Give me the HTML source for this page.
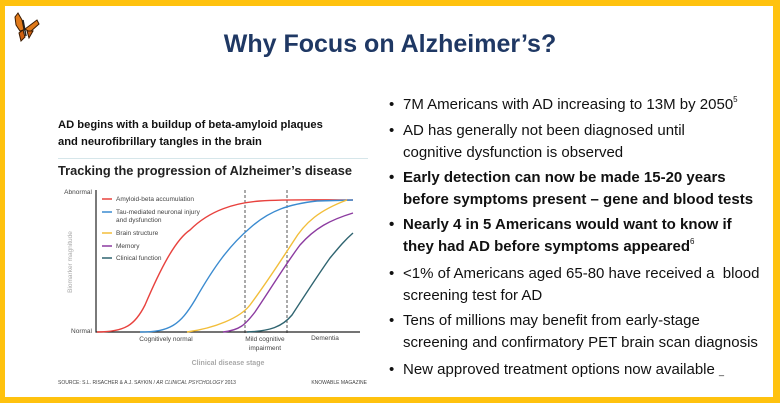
<!DOCTYPE html>
<html><head><meta charset="utf-8"><style>
html,body{margin:0;padding:0;}
body{width:780px;height:403px;position:relative;background:#FFC20E;overflow:hidden;font-family:"Liberation Sans",sans-serif;}
#w{position:absolute;left:5px;top:6px;width:768px;height:391px;background:#fff;}
.t{position:absolute;white-space:nowrap;}
#title{left:0;width:780px;text-align:center;top:30px;font-size:25px;font-weight:bold;color:#1F3864;}
.b{position:absolute;left:389px;font-size:15px;color:#111;line-height:22px;}
.b span.d{position:absolute;left:0;}
.b div{margin-left:14px;white-space:nowrap;}
sup{font-size:8px;line-height:0;position:relative;top:-7px;vertical-align:baseline;}
</style></head><body>
<div id="w"></div>
<svg style="position:absolute;left:13px;top:11px" width="30" height="34" viewBox="0 0 30 34">
<path d="M9 9 L5 2 L2 6 L3 14 L7 20 L11 19 Z" fill="#E07A1A" stroke="#3a1a00" stroke-width="1"/>
<path d="M10 19 L6 22 L8 30 L12 26 Z" fill="#D06010" stroke="#3a1a00" stroke-width="1"/>
<path d="M12 18 L24 9 L26 13 L17 21 Z" fill="#E07A1A" stroke="#3a1a00" stroke-width="1"/>
<path d="M14 20 L20 20 L16 27 Z" fill="#D06010" stroke="#3a1a00" stroke-width="1"/>
<line x1="10" y1="9" x2="13" y2="25" stroke="#222" stroke-width="1.5"/>
</svg>
<div class="t" id="title">Why Focus on Alzheimer’s?</div>

<div class="t" style="left:58px;top:117px;font-size:11.2px;font-weight:bold;line-height:17px;color:#111">AD begins with a buildup of beta-amyloid plaques<br>and neurofibrillary tangles in the brain</div>
<div style="position:absolute;left:58px;top:158px;width:310px;height:1px;background:#d6e6ea"></div>
<div class="t" style="left:58px;top:163px;font-size:12.8px;font-weight:bold;color:#222">Tracking the progression of Alzheimer’s disease</div>

<svg style="position:absolute;left:0;top:0" width="780" height="403">
<g font-family="Liberation Sans,sans-serif" font-size="6.5" fill="#444">
<text x="92" y="194" text-anchor="end">Abnormal</text>
<text x="92" y="333" text-anchor="end">Normal</text>
<text x="72" y="262" transform="rotate(-90 72 262)" text-anchor="middle" fill="#aaa" font-size="6.5">Biomarker magnitude</text>
<text x="166" y="341" text-anchor="middle">Cognitively normal</text>
<text x="265" y="341" text-anchor="middle">Mild cognitive</text>
<text x="265" y="350" text-anchor="middle">impairment</text>
<text x="325" y="340" text-anchor="middle">Dementia</text>
<text x="228" y="365" text-anchor="middle" fill="#aaa" font-weight="bold" font-size="7">Clinical disease stage</text>
<text x="58" y="384" font-size="5">SOURCE: S.L. RISACHER &amp; A.J. SAYKIN / <tspan font-style="italic">AR CLINICAL PSYCHOLOGY</tspan> 2013</text>
<text x="367" y="384" font-size="5" text-anchor="end">KNOWABLE MAGAZINE</text>
<text x="116" y="201">Amyloid-beta accumulation</text>
<text x="116" y="214">Tau-mediated neuronal injury</text>
<text x="116" y="222">and dysfunction</text>
<text x="116" y="235">Brain structure</text>
<text x="116" y="248">Memory</text>
<text x="116" y="260">Clinical function</text>
</g>
<g stroke-width="1.5">
<line x1="102" y1="199" x2="112" y2="199" stroke="#E8423E"/>
<line x1="102" y1="212" x2="112" y2="212" stroke="#3B8BD0"/>
<line x1="102" y1="233" x2="112" y2="233" stroke="#F2BE3A"/>
<line x1="102" y1="246" x2="112" y2="246" stroke="#8C3BA0"/>
<line x1="102" y1="258" x2="112" y2="258" stroke="#2F6470"/>
</g>
<line x1="245" y1="190" x2="245" y2="333" stroke="#555" stroke-dasharray="3,2" stroke-width="1"/>
<line x1="287" y1="190" x2="287" y2="333" stroke="#555" stroke-dasharray="3,2" stroke-width="1"/>
<polyline points="96,190 96,332 360,332" fill="none" stroke="#222" stroke-width="1.2"/>
<g fill="none" stroke-width="1.4">
<path d="M97 332 C125 332 135 325 145 305 C160 270 175 240 190 230 C210 210 235 203 260 201 C290 199 320 200 353 200" stroke="#E8423E"/>
<path d="M140 332 C170 332 180 325 195 300 C215 265 230 245 250 228 C270 210 290 204 317 201 L353 200" stroke="#3B8BD0"/>
<path d="M187 332 C215 328 240 318 250 305 C265 285 280 262 293 242 C305 222 320 210 347 200" stroke="#F2BE3A"/>
<path d="M223 332 C240 330 245 325 255 312 C270 290 285 265 300 245 C315 228 330 220 353 213" stroke="#8C3BA0"/>
<path d="M247 332 C270 331 282 327 292 315 C305 295 320 272 330 258 C340 246 345 240 353 233" stroke="#2F6470"/>
</g>
</svg>

<div class="b" style="top:94px"><span class="d">•</span><div>7M Americans with AD increasing to 13M by 2050<sup>5</sup></div></div>
<div class="b" style="top:120px"><span class="d">•</span><div>AD has generally not been diagnosed until<br>cognitive dysfunction is observed</div></div>
<div class="b" style="top:167px;font-weight:bold"><span class="d">•</span><div>Early detection can now be made 15-20 years<br>before symptoms present – gene and blood tests</div></div>
<div class="b" style="top:214px;font-weight:bold"><span class="d">•</span><div>Nearly 4 in 5 Americans would want to know if<br>they had AD before symptoms appeared<sup style="font-weight:normal">6</sup></div></div>
<div class="b" style="top:263px"><span class="d">•</span><div>&lt;1% of Americans aged 65-80 have received a&nbsp; blood<br>screening test for AD</div></div>
<div class="b" style="top:310px"><span class="d">•</span><div>Tens of millions may benefit from early-stage<br>screening and confirmatory PET brain scan diagnosis</div></div>
<div class="b" style="top:359px"><span class="d">•</span><div>New approved treatment options now available <span style="font-size:9px">_</span></div></div>
</body></html>
